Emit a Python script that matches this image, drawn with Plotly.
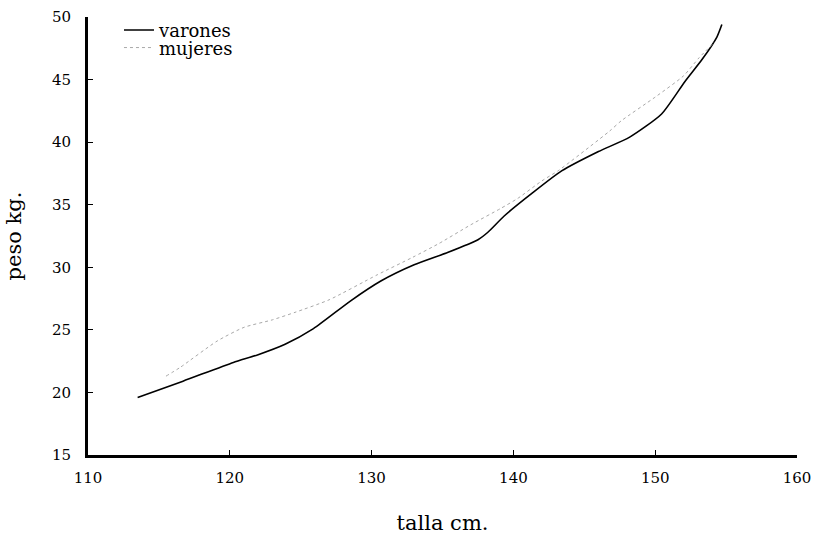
import plotly.graph_objects as go

# varones (solid line)
talla_varones = [113.5, 116.7, 120.25, 121.95, 123.9, 125.9, 128.5, 130.65, 133.0, 135.4,
                 137.5, 138.2, 139.35, 141.3, 143.4, 146.0, 148.2, 150.45, 152.1, 153.3,
                 154.35, 154.7]
peso_varones = [19.6, 20.9, 22.4, 23.0, 23.85, 25.1, 27.3, 28.9, 30.2, 31.2,
                32.2, 32.8, 34.1, 35.9, 37.7, 39.25, 40.4, 42.25, 44.85, 46.6,
                48.4, 49.4]

# mujeres (faint dotted line)
talla_mujeres = [115.5, 116.5, 119.1, 121.0, 123.0, 124.6, 127.0, 130.4, 132.9, 134.75,
                 137.0, 139.1, 140.3, 142.0, 143.2, 146.8, 147.6, 150.0, 152.0, 153.1,
                 154.2]
peso_mujeres = [21.3, 22.0, 24.1, 25.2, 25.8, 26.4, 27.4, 29.4, 30.8, 31.9,
                33.4, 34.7, 35.5, 36.9, 37.75, 40.9, 41.7, 43.6, 45.3, 46.75,
                48.0]

x_ticks = [110, 120, 130, 140, 150, 160]
y_ticks = [15, 20, 25, 30, 35, 40, 45, 50]

font_family = "DejaVu Serif"

fig = go.Figure()
fig.add_trace(go.Scatter(
    x=talla_varones, y=peso_varones, mode="lines", name="varones",
    line=dict(color="black", width=1.6, shape="spline", smoothing=0.6),
    legend="legend",
))
fig.add_trace(go.Scatter(
    x=talla_mujeres, y=peso_mujeres, mode="lines", name="mujeres",
    line=dict(color="#a8a8a8", width=1, dash="dot", shape="spline", smoothing=0.6),
    legend="legend2",
))

legend_style = dict(xanchor="left", yanchor="top", bgcolor="rgba(0,0,0,0)",
                    font=dict(size=18, family=font_family), itemwidth=30)

fig.update_layout(
    width=815, height=544,
    margin=dict(l=88, r=18, t=12, b=89),
    paper_bgcolor="white", plot_bgcolor="white",
    font=dict(family=font_family, color="black", size=15),
    showlegend=True,
    legend=dict(x=0.0437, y=1.012, **legend_style),
    legend2=dict(x=0.0437, y=0.9718, **legend_style),
)
fig.update_xaxes(
    range=[110, 160], tickvals=x_ticks, ticktext=[str(v) for v in x_ticks],
    showgrid=False, zeroline=False, automargin=False,
    showline=True, linecolor="black", linewidth=3,
    ticks="inside", ticklen=5, tickwidth=1, tickcolor="black",
    ticklabelstandoff=7, ticklabeloverflow="allow",
    tickfont=dict(size=15, family=font_family),
    title=dict(text="talla cm.", font=dict(size=21, family=font_family), standoff=30),
)
fig.update_yaxes(
    range=[15, 50], tickvals=y_ticks, ticktext=[str(v) for v in y_ticks],
    showgrid=False, zeroline=False, automargin=False,
    showline=True, linecolor="black", linewidth=3,
    ticks="inside", ticklen=5, tickwidth=1, tickcolor="black",
    ticklabelstandoff=11, ticklabeloverflow="allow",
    tickfont=dict(size=15, family=font_family),
    title=dict(text="peso kg.", font=dict(size=21, family=font_family), standoff=25),
)

# remove the default page margin so the figure fills the window exactly
fig.write_html("out.html",
               config={"displayModeBar": False},
               post_script="document.body.style.margin='0px';"
                           "document.body.style.overflow='hidden';")
